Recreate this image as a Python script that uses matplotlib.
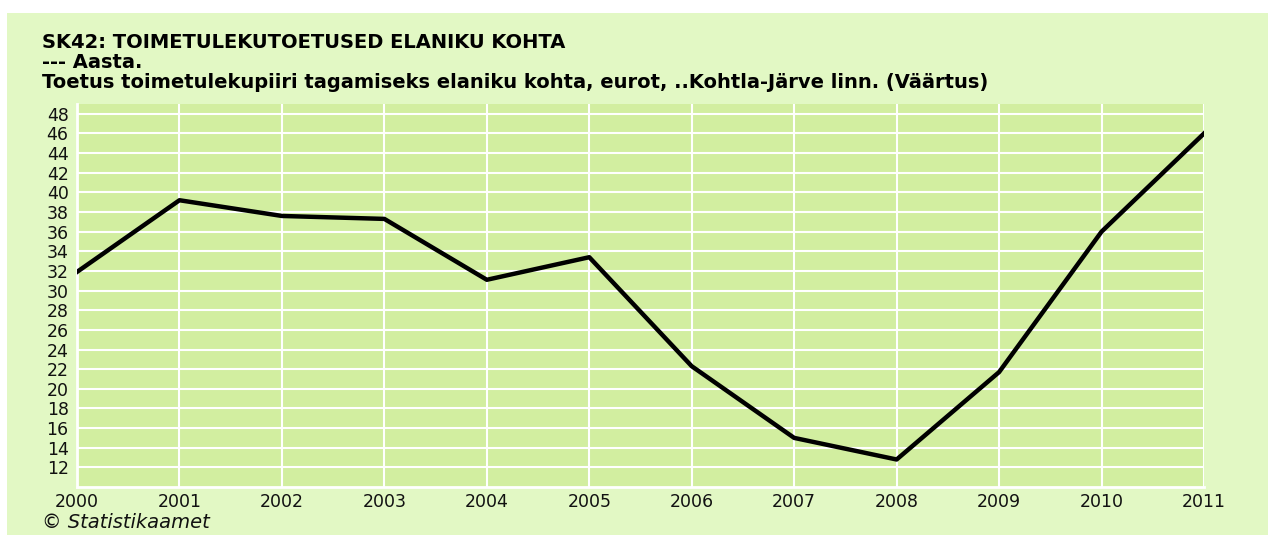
import numpy as np
import matplotlib
matplotlib.use("Agg")
import matplotlib.pyplot as plt

years = [2000, 2001, 2002, 2003, 2004, 2005, 2006, 2007, 2008, 2009, 2010, 2011]
values = [31.9, 39.2, 37.6, 37.3, 31.1, 33.4, 22.3, 15.0, 12.8, 21.7, 36.0, 46.0]
yticks = list(range(12, 49, 2))

title_lines = [
    "SK42: TOIMETULEKUTOETUSED ELANIKU KOHTA",
    "--- Aasta.",
    "Toetus toimetulekupiiri tagamiseks elaniku kohta, eurot, ..Kohtla-Järve linn. (Väärtus)",
]

W, H = 1268, 535
fig = plt.figure(figsize=(W / 100, H / 100), dpi=100)
fig.patch.set_facecolor("white")

# outer light green panel
bg = fig.add_axes([7 / W, 0, 1 - 7 / W, 1 - 13 / H])
bg.set_facecolor("#e2f8c4")
bg.set_xticks([])
bg.set_yticks([])
for s in bg.spines.values():
    s.set_visible(False)

left, right, top, bottom = 77, 1204, 104, 487
ax = fig.add_axes([left / W, 1 - bottom / H, (right - left) / W, (bottom - top) / H])
ax.set_facecolor("#d2eea0")

ax.plot(years, values, color="black", lw=3.2, solid_joinstyle="round", zorder=3)

ax.set_xlim(2000, 2011)
ax.set_ylim(10, 49)
ax.set_xticks(years)
ax.set_yticks(yticks)
ax.grid(True, color="white", lw=1.5, zorder=1)
ax.set_axisbelow(True)
for s in ax.spines.values():
    s.set_visible(False)
for side in ["left", "bottom"]:
    ax.spines[side].set_visible(True)
    ax.spines[side].set_color("white")
    ax.spines[side].set_linewidth(2)
ax.tick_params(length=0, labelsize=12.5, colors="#111111")
ax.tick_params(axis="x", pad=4)
ax.tick_params(axis="y", pad=6)

ys = [42, 62, 82]
for t, y in zip(title_lines, ys):
    fig.text(42 / W, 1 - y / H, t, fontsize=14, fontweight="bold",
             va="center", ha="left", color="black")

fig.text(42 / W, 1 - 523 / H, "© Statistikaamet", fontsize=14, style="italic",
         va="center", ha="left", color="#111111")

fig.savefig("out.png", dpi=100, facecolor=fig.get_facecolor())
